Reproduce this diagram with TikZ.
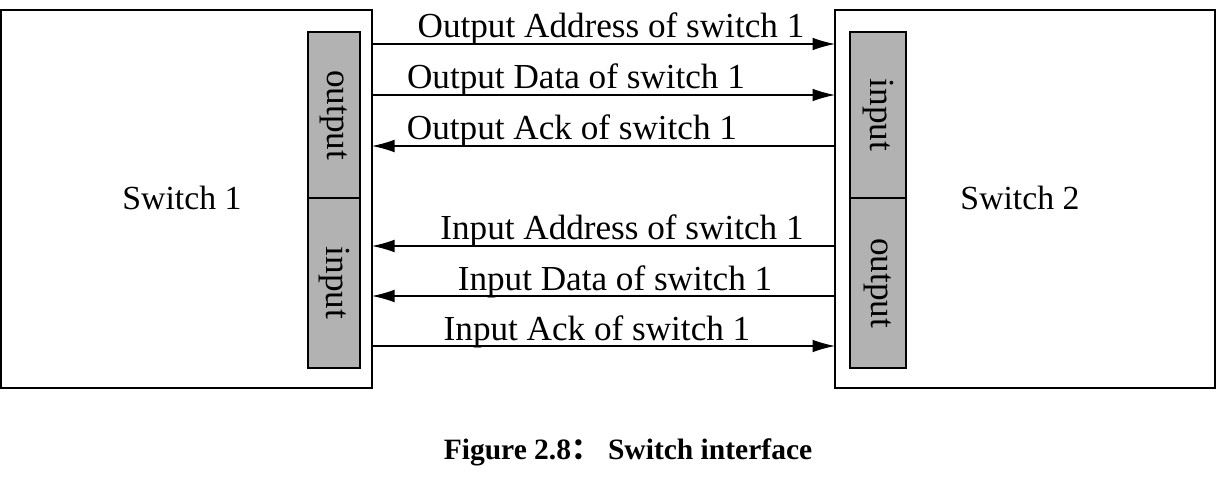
\documentclass[tikz,border=0pt]{standalone}
\usepackage{fontspec}
\setmainfont{Liberation Serif}
\newfontfamily\cjk{Noto Sans CJK SC}
\usetikzlibrary{arrows.meta}
\begin{document}
\begin{tikzpicture}[x=0.025cm, y=-0.025cm,
  box/.style={draw, thick, inner sep=0pt},
  port/.style={draw, thick, fill=gray!60, inner sep=0pt},
  sig/.style={thick, -{Latex[length=16pt, width=9pt]}},
  lbl/.style={font=\fontsize{25}{27}\selectfont, inner sep=0pt, anchor=base}]
  \useasboundingbox (0,0) rectangle (1221,478);

  % Switch boxes
  \draw[box] (1,10) rectangle (372,388);
  \draw[box] (835,10) rectangle (1215,388);
  \node[lbl, font=\fontsize{24}{26}\selectfont] (sw1) at (182,210) {Switch 1};
  \node[lbl, font=\fontsize{24}{26}\selectfont] (sw2) at (1020,210) {Switch 2};

  % Ports
  \draw[port] (308,32) rectangle (360,198);
  \draw[port] (308,198) rectangle (360,368);
  \draw[port] (850,32) rectangle (906,198);
  \draw[port] (850,198) rectangle (906,368);
  \node[lbl, anchor=center, rotate=-90] at (334,115) {output};
  \node[lbl, anchor=center, rotate=-90] at (334,283) {input};
  \node[lbl, anchor=center, rotate=-90] at (878,115) {input};
  \node[lbl, anchor=center, rotate=-90] at (878,283) {output};

  % Connector end points
  \foreach \n/\y in {a/44,b/95,c/146,d/246,e/296,f/346} {
    \coordinate (l\n) at (372,\y);
    \coordinate (r\n) at (835,\y);
  }

  % Signals
  \draw[sig] (la) -- (ra);
  \draw[sig] (lb) -- (rb);
  \draw[sig] (rc) -- (lc);
  \draw[sig] (rd) -- (ld);
  \draw[sig] (re) -- (le);
  \draw[sig] (lf) -- (rf);
  \node[lbl] (ta) at (611,38) {Output Address of switch 1};
  \node[lbl] (tb) at (576,89) {Output Data of switch 1};
  \node[lbl] (tc) at (572,140) {Output Ack of switch 1};
  \node[lbl] (td) at (622,240) {Input Address of switch 1};
  \node[lbl] (te) at (615,290) {Input Data of switch 1};
  \node[lbl] (tf) at (597,340) {Input Ack of switch 1};

  % Caption
  \node[font=\fontsize{21}{23}\selectfont\bfseries] (cap) at (628,452) {Figure 2.8{\cjk ：} Switch interface};
\end{tikzpicture}
\end{document}
